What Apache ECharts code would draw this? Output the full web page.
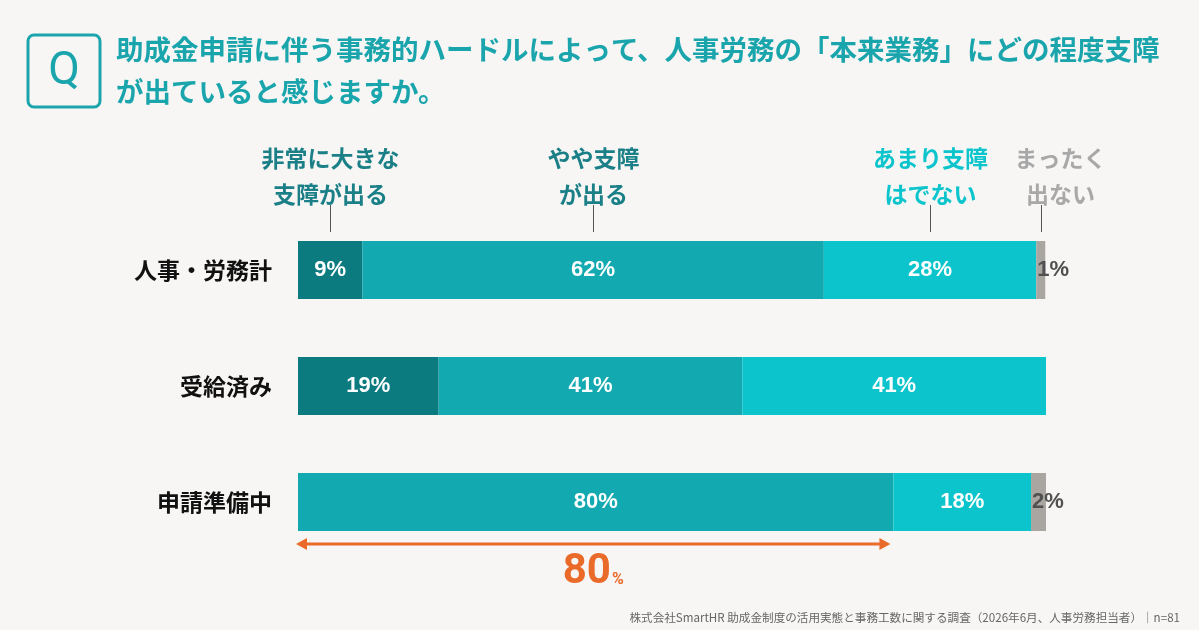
<!DOCTYPE html>
<html>
<head>
    <meta charset="utf-8" />
    <style>
        html, body {
            margin: 0;
            padding: 0;
            background-color: #f7f6f4;
        }
        #barChart {
            width: 1199px;
            height: 630px;
        }
    </style>
</head>
<body>
    <div id="barChart"></div>
    <script src="https://cdn.jsdelivr.net/npm/echarts@6/dist/echarts.min.js"></script>
    <script type="text/javascript">
        // 回答カテゴリ（上の注記ラベル）
        var answers = ['非常に大きな\n支障が出る', 'やや支障\nが出る', 'あまり支障\nはでない', 'まったく\n出ない'];
        var groups = ['人事・労務計', '受給済み', '申請準備中'];

        // 各回答の割合（%）、groups の順
        var veryLarge = [8.6, 18.8, 0];
        var somewhat = [61.7, 40.6, 79.6];
        var notMuch = [28.4, 40.6, 18.4];
        var notAtAll = [1.2, 0, 2.0];

        var colors = ['#0b7b80', '#12a9b0', '#0bc4cc', '#a9a6a1'];
        var noteColors = ['#1a7f86', '#1a7f86', '#0bc4cc', '#a8a8a8'];
        var jp = '"Noto Sans CJK JP", "Noto Sans", sans-serif';
        var num = '"Liberation Sans", Arial, sans-serif';

        function pctLabel(p) {
            return p.value > 0 ? Math.round(p.value) + '%' : '';
        }

        function makeSeries(name, data, i) {
            var last = i === 3;
            return {
                name: name,
                type: 'bar',
                stack: 'total',
                barWidth: 58,
                data: data,
                itemStyle: { color: colors[i] },
                label: {
                    show: true,
                    position: last ? 'insideLeft' : 'inside',
                    distance: 1,
                    formatter: pctLabel,
                    color: last ? '#505050' : '#fff',
                    fontFamily: num,
                    fontWeight: 'bold',
                    fontSize: 22
                }
            };
        }

        var myBarChart = echarts.init(document.getElementById('barChart'));
        var barOptions = {
            backgroundColor: '#f7f6f4',
            animation: false,
            grid: { left: 298, right: 153, top: 212, bottom: 70 },
            xAxis: {
                type: 'value',
                min: 0,
                max: 100,
                show: false
            },
            yAxis: {
                type: 'category',
                inverse: true,
                data: groups,
                axisLine: { show: false },
                axisTick: { show: false },
                axisLabel: {
                    margin: 26,
                    color: '#111',
                    fontFamily: jp,
                    fontWeight: 'bold',
                    fontSize: 23
                }
            },
            series: [
                makeSeries(answers[0], veryLarge, 0),
                makeSeries(answers[1], somewhat, 1),
                makeSeries(answers[2], notMuch, 2),
                makeSeries(answers[3], notAtAll, 3)
            ]
        };
        myBarChart.setOption(barOptions);

        // 注記・矢印などは軸の座標から計算
        var rows = [veryLarge, somewhat, notMuch, notAtAll];
        var g = [];

        // タイトル
        g.push({
            type: 'rect',
            shape: { x: 28, y: 35, width: 72, height: 72, r: 6 },
            style: { fill: 'none', stroke: '#1aa5ad', lineWidth: 3 }
        });
        g.push({
            type: 'text', x: 64, y: 72,
            style: {
                text: 'Q', fill: '#1aa5ad', font: 'normal 46px Roboto',
                align: 'center', verticalAlign: 'middle'
            }
        });
        g.push({
            type: 'text', x: 116, y: 50,
            style: {
                text: '助成金申請に伴う事務的ハードルによって、人事労務の「本来業務」にどの程度支障',
                fill: '#1aa5ad', font: 'bold 27.5px ' + jp, verticalAlign: 'middle'
            }
        });
        g.push({
            type: 'text', x: 116, y: 92,
            style: {
                text: 'が出ていると感じますか。',
                fill: '#1aa5ad', font: 'bold 27.5px ' + jp, verticalAlign: 'middle'
            }
        });

        // 回答カテゴリの注記（1行目の各区間の中央）
        var acc = 0;
        var textShift = [0, 0, 0, 19];
        for (var i = 0; i < rows.length; i++) {
            var v = rows[i][0];
            var mid = myBarChart.convertToPixel({ gridIndex: 0 }, [acc + v / 2, groups[0]]);
            acc += v;
            var lx = Math.round(mid[0]) + 0.5;
            var barTop = mid[1] - 29;
            g.push({
                type: 'line',
                shape: { x1: lx, y1: barTop - 36, x2: lx, y2: barTop - 9 },
                style: { stroke: '#555', lineWidth: 1 }
            });
            g.push({
                type: 'text', x: lx + textShift[i], y: barTop - 65,
                style: {
                    text: answers[i], fill: noteColors[i],
                    font: 'bold 23px ' + jp, lineHeight: 36,
                    align: 'center', verticalAlign: 'middle'
                }
            });
        }

        // 申請準備中の「支障が出る」合計の矢印
        var sumLast = veryLarge[2] + somewhat[2];
        var a0 = myBarChart.convertToPixel({ gridIndex: 0 }, [0, groups[2]]);
        var a1 = myBarChart.convertToPixel({ gridIndex: 0 }, [sumLast, groups[2]]);
        var ay = a0[1] + 42;
        var ax0 = a0[0] - 2, ax1 = a1[0] - 3;
        g.push({
            type: 'line',
            shape: { x1: ax0 + 6, y1: ay, x2: ax1 - 6, y2: ay },
            style: { stroke: '#ea6a2a', lineWidth: 3 }
        });
        g.push({
            type: 'polygon',
            shape: { points: [[ax0, ay], [ax0 + 11, ay - 6], [ax0 + 11, ay + 6]] },
            style: { fill: '#ea6a2a' }
        });
        g.push({
            type: 'polygon',
            shape: { points: [[ax1, ay], [ax1 - 11, ay - 6], [ax1 - 11, ay + 6]] },
            style: { fill: '#ea6a2a' }
        });
        g.push({
            type: 'text', x: (ax0 + ax1) / 2, y: ay + 28,
            style: {
                text: '{n|' + Math.round(sumLast) + '}{p|%}',
                align: 'center', verticalAlign: 'middle',
                rich: {
                    n: { fill: '#ea6a2a', font: 'bold 42px Roboto' },
                    p: { fill: '#ea6a2a', font: 'bold 16px Roboto', padding: [16, 0, 0, 1] }
                }
            }
        });

        // 出典
        g.push({
            type: 'text', x: 1180, y: 618,
            style: {
                text: '株式会社SmartHR 助成金制度の活用実態と事務工数に関する調査（2026年6月、人事労務担当者）｜n=81',
                fill: '#666', font: '11.6px ' + jp, align: 'right', verticalAlign: 'middle'
            }
        });

        myBarChart.setOption({ graphic: g });
    </script>
</body>
</html>
